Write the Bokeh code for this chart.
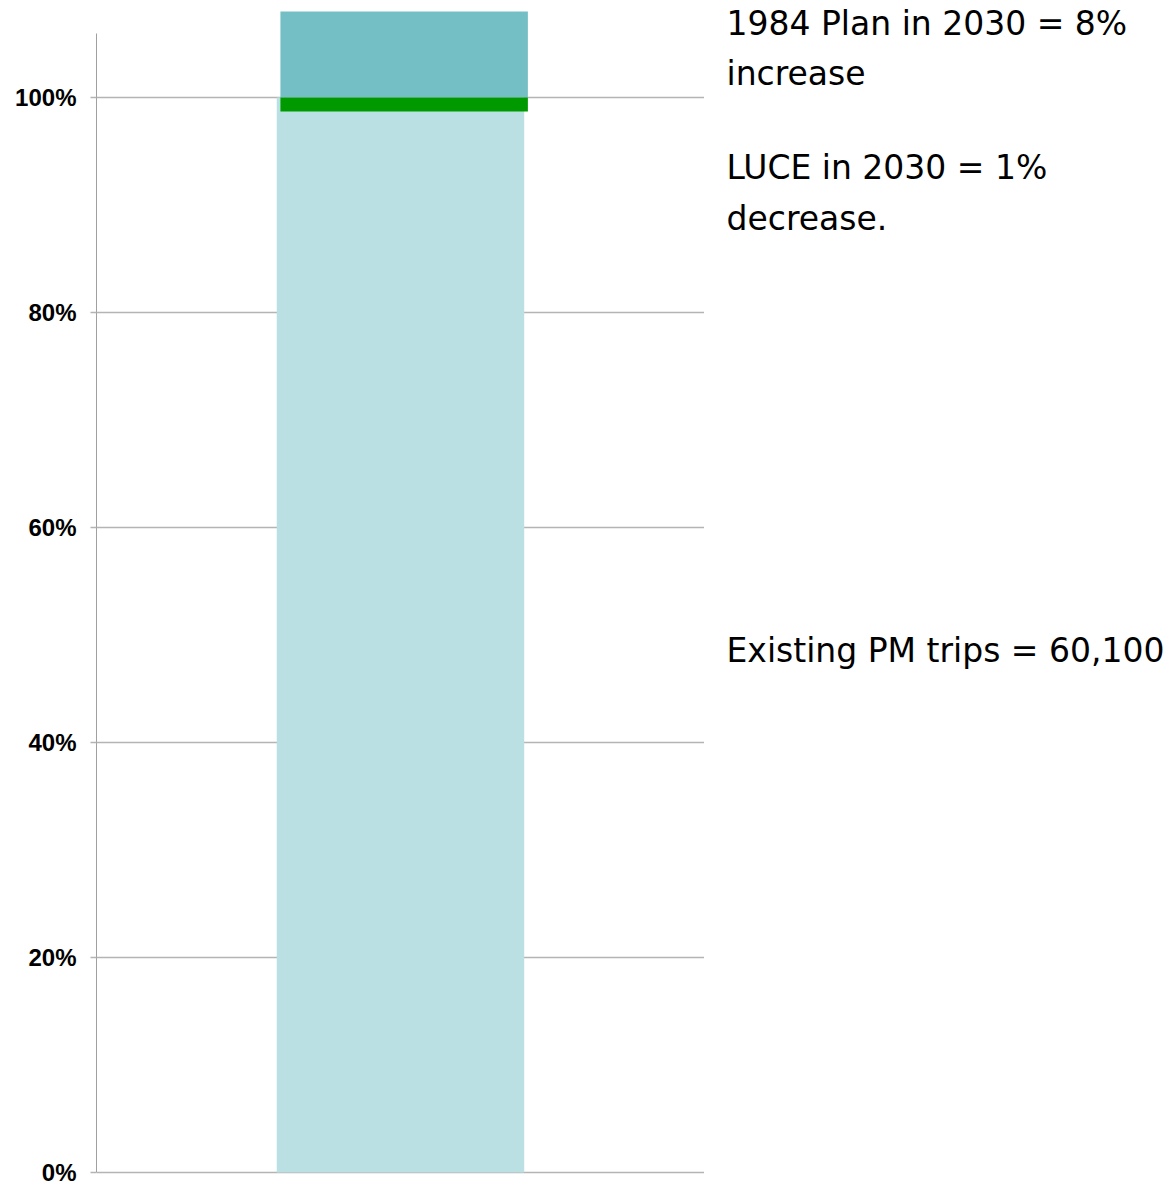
from bokeh.plotting import figure
from bokeh.layouts import row
from bokeh.models import Range1d, FixedTicker, PrintfTickFormatter, Label, ColumnDataSource
from bokeh.embed import file_html
from bokeh.resources import INLINE

# ---- data ----
categories = ["PM trips"]
existing_pct = [100]        # existing PM trips = 60,100 (baseline 100%)
luce_2030_pct = [98.7]      # LUCE in 2030 (~1% decrease)
plan_1984_2030_pct = [108]  # 1984 Plan in 2030 (8% increase)
y_ticks = [0, 20, 40, 60, 80, 100]
notes = [
    ["1984 Plan in 2030 = 8%", "increase"],
    ["LUCE in 2030 = 1%", "decrease."],
    ["Existing PM trips = 60,100"],
]

# ---- layout helpers (pixel geometry of the reference) ----
W, H = 1174, 1186
FRAME_L, FRAME_R, FRAME_T, FRAME_B = 96, 704, 0, 1175
ZERO_ROW = 1172
PX_PER_PCT = 10.75
y_start = -(FRAME_B - ZERO_ROW) / PX_PER_PCT
y_end = (ZERO_ROW - FRAME_T) / PX_PER_PCT

def py(pix):  # screen pixel row -> data y
    return (ZERO_ROW - pix) / PX_PER_PCT

yr = Range1d(y_start, y_end)

p = figure(width=FRAME_R, height=H, output_backend="svg", toolbar_location=None,
           x_range=Range1d(-0.5, 0.5), y_range=yr,
           min_border_left=FRAME_L, min_border_right=0,
           min_border_top=FRAME_T, min_border_bottom=H - FRAME_B)
p.outline_line_color = None
p.background_fill_color = "white"
p.border_fill_color = "white"

xs = list(range(len(categories)))
src = ColumnDataSource(dict(
    x=xs,
    x_shift=[x + 0.006 for x in xs],
    existing=existing_pct,
    luce=luce_2030_pct,
    plan=plan_1984_2030_pct,
    zero=[0] * len(xs),
))

BAR_W = 0.407
# existing trips (baseline)
p.vbar(x="x", bottom="zero", top="existing", width=BAR_W, source=src,
       fill_color="#BBE0E3", line_color=None)
# 1984 plan increase above 100%
p.vbar(x="x_shift", bottom="existing", top="plan", width=BAR_W, source=src,
       fill_color="#74BFC6", line_color=None)
# LUCE decrease below 100%
p.vbar(x="x_shift", bottom="luce", top="existing", width=BAR_W, source=src,
       fill_color="#009900", line_color=None)

# axes
p.xaxis.visible = False
p.xgrid.visible = False
yax = p.yaxis[0]
yax.ticker = FixedTicker(ticks=y_ticks)
yax.formatter = PrintfTickFormatter(format="%d%%")
yax.bounds = (0, 106)
yax.axis_line_color = "#A0A0A0"
yax.axis_line_width = 1
yax.major_tick_line_color = "#B4B4B4"
yax.major_tick_line_width = 1.5
yax.major_tick_out = 6
yax.major_tick_in = 0
yax.minor_tick_line_color = None
yax.major_label_standoff = 14
yax.major_label_text_font = "Liberation Sans"
yax.major_label_text_font_style = "bold"
yax.major_label_text_font_size = "24px"
yax.major_label_text_color = "#000000"

p.ygrid.ticker = FixedTicker(ticks=y_ticks)
p.ygrid.grid_line_color = "#B4B4B4"
p.ygrid.grid_line_width = 1.5

# ---- notes panel on the right ----
NOTE_W = W - FRAME_R
t = figure(width=NOTE_W, height=H, output_backend="svg", toolbar_location=None,
           x_range=Range1d(0, NOTE_W), y_range=yr,
           min_border_left=0, min_border_right=0,
           min_border_top=FRAME_T, min_border_bottom=H - FRAME_B)
t.axis.visible = False
t.grid.visible = False
t.outline_line_color = None
t.background_fill_color = "white"
t.border_fill_color = "white"

NOTE_FONT = "DejaVu Sans"
NOTE_SIZE = "33px"
BASELINE_FIX = 12
baselines = [[35, 85], [179, 230], [662]]
for lines, bls in zip(notes, baselines):
    for txt, b in zip(lines, bls):
        t.add_layout(Label(x=22, y=py(b - BASELINE_FIX), text=txt, text_font=NOTE_FONT,
                           text_font_size=NOTE_SIZE, text_color="#000000",
                           text_baseline="alphabetic", text_align="left"))

layout = row(p, t, spacing=0)
open("out.html", "w").write(file_html(layout, INLINE))
